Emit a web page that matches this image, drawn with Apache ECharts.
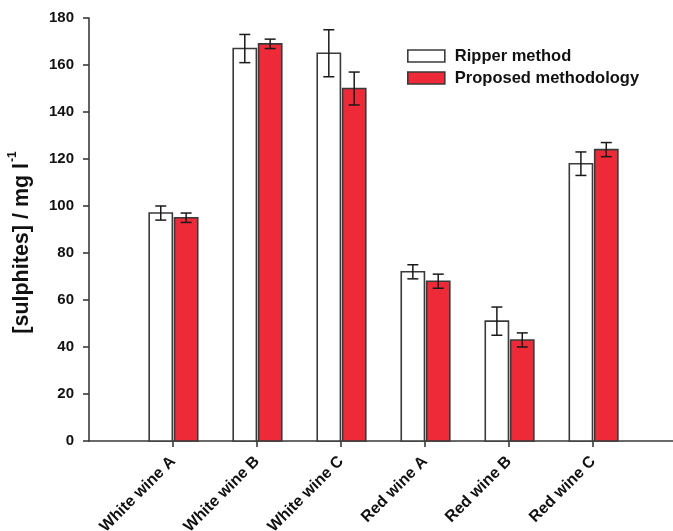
<!DOCTYPE html>
<html>
<head>
<meta charset="utf-8">
<script src="https://cdn.jsdelivr.net/npm/echarts@6/dist/echarts.min.js"></script>
<style>
html,body{margin:0;padding:0;background:#fff;}
#chart{width:673px;height:531px;}
</style>
</head>
<body>
<div id="chart"></div>
<script>
var categories = ['White wine A','White wine B','White wine C','Red wine A','Red wine B','Red wine C'];
var ripperValues = [97, 167, 165, 72, 51, 118];
var ripperErrors = [3, 6, 10, 3, 6, 5];
var proposedValues = [95, 169, 150, 68, 43, 124];
var proposedErrors = [2, 2, 7, 3, 3, 3];
var yTicks = [0, 20, 40, 60, 80, 100, 120, 140, 160, 180];
var seriesNames = ['Ripper method', 'Proposed methodology'];

var FONT = 'Liberation Sans, Arial, sans-serif';
var RED = '#ee2a38';
var EDGE = '#3a3a3a';

function barData(vals, errs) {
  return vals.map(function (v, i) { return [i + 1, v, errs[i]]; });
}

function makeBarRender(side) {
  return function (params, api) {
    var x = api.value(0), v = api.value(1), e = api.value(2);
    var unit = api.size([1, 0])[0];
    var bw = unit * 0.276;
    var top = api.coord([x, v]);
    var base = api.coord([x, 0]);
    var cx = top[0];
    var left = side < 0 ? cx - unit * 0.008 - bw : cx + unit * 0.018;
    var mid = left + bw / 2;
    var eTop = api.coord([x, v + e])[1];
    var eBot = api.coord([x, v - e])[1];
    var cap = 5.5;
    return {
      type: 'group',
      children: [
        {
          type: 'rect',
          shape: { x: left, y: top[1], width: bw, height: base[1] - top[1] },
          style: { fill: side < 0 ? '#ffffff' : RED, stroke: EDGE, lineWidth: 1.6 }
        },
        { type: 'line', shape: { x1: mid, y1: eTop, x2: mid, y2: eBot }, style: { stroke: '#1a1a1a', lineWidth: 1.5 } },
        { type: 'line', shape: { x1: mid - cap, y1: eTop, x2: mid + cap, y2: eTop }, style: { stroke: '#1a1a1a', lineWidth: 1.5 } },
        { type: 'line', shape: { x1: mid - cap, y1: eBot, x2: mid + cap, y2: eBot }, style: { stroke: '#1a1a1a', lineWidth: 1.5 } }
      ]
    };
  };
}

var chart = echarts.init(document.getElementById('chart'), null, { renderer: 'canvas' });
chart.setOption({
  animation: false,
  backgroundColor: '#ffffff',
  textStyle: { fontFamily: FONT },
  grid: { left: 89, right: 0, top: 18, bottom: 90, containLabel: false, outerBoundsMode: 'none' },
  legend: {
    orient: 'vertical',
    left: 407,
    top: 47,
    padding: 0,
    itemWidth: 37,
    itemHeight: 12,
    itemGap: 4,
    icon: 'rect',
    data: [
      { name: seriesNames[0], itemStyle: { color: '#ffffff', borderColor: EDGE, borderWidth: 1.6 } },
      { name: seriesNames[1], itemStyle: { color: RED, borderColor: EDGE, borderWidth: 1.6 } }
    ],
    textStyle: { fontFamily: FONT, fontWeight: 'bold', fontSize: 16.5, lineHeight: 18, color: '#111', padding: [0, 0, 0, 5] }
  },
  xAxis: {
    type: 'value',
    min: 0,
    max: 6.95,
    interval: 1,
    splitLine: { show: false },
    axisLine: { show: true, lineStyle: { color: EDGE, width: 1.6 } },
    axisTick: { show: true, length: 6, inside: false, customValues: [1, 2, 3, 4, 5, 6], lineStyle: { color: EDGE, width: 1.6 } },
    axisLabel: {
      customValues: [1, 2, 3, 4, 5, 6],
      rotate: 45,
      margin: 18,
      fontFamily: FONT,
      fontWeight: 'bold',
      fontSize: 16,
      color: '#111',
      formatter: function (v) { return categories[Math.round(v) - 1] || ''; }
    }
  },
  yAxis: {
    type: 'value',
    min: yTicks[0],
    max: yTicks[yTicks.length - 1],
    interval: 20,
    splitLine: { show: false },
    axisLine: { show: true, lineStyle: { color: EDGE, width: 1.6 } },
    axisTick: { show: true, length: 6, inside: false, lineStyle: { color: EDGE, width: 1.6 } },
    axisLabel: { margin: 15, fontFamily: FONT, fontWeight: 'bold', fontSize: 15, color: '#111' },
    name: '{a|[sulphites] / mg l}{b|-1}',
    nameLocation: 'middle',
    nameGap: 56,
    nameRotate: 90,
    nameTextStyle: {
      padding: [0, 26, 0, 0],
      rich: {
        a: { fontFamily: FONT, fontWeight: 'bold', fontSize: 21.5, color: '#111', lineHeight: 26, verticalAlign: 'bottom' },
        b: { fontFamily: FONT, fontWeight: 'bold', fontSize: 12, color: '#111', lineHeight: 26, verticalAlign: 'top', padding: [0, 0, 8, 1] }
      }
    }
  },
  series: [
    {
      name: seriesNames[0],
      type: 'custom',
      itemStyle: { color: '#ffffff', borderColor: EDGE, borderWidth: 1.6 },
      renderItem: makeBarRender(-1),
      encode: { x: 0, y: 1 },
      data: barData(ripperValues, ripperErrors)
    },
    {
      name: seriesNames[1],
      type: 'custom',
      itemStyle: { color: RED, borderColor: EDGE, borderWidth: 1.6 },
      renderItem: makeBarRender(1),
      encode: { x: 0, y: 1 },
      data: barData(proposedValues, proposedErrors)
    }
  ]
});
</script>
</body>
</html>
